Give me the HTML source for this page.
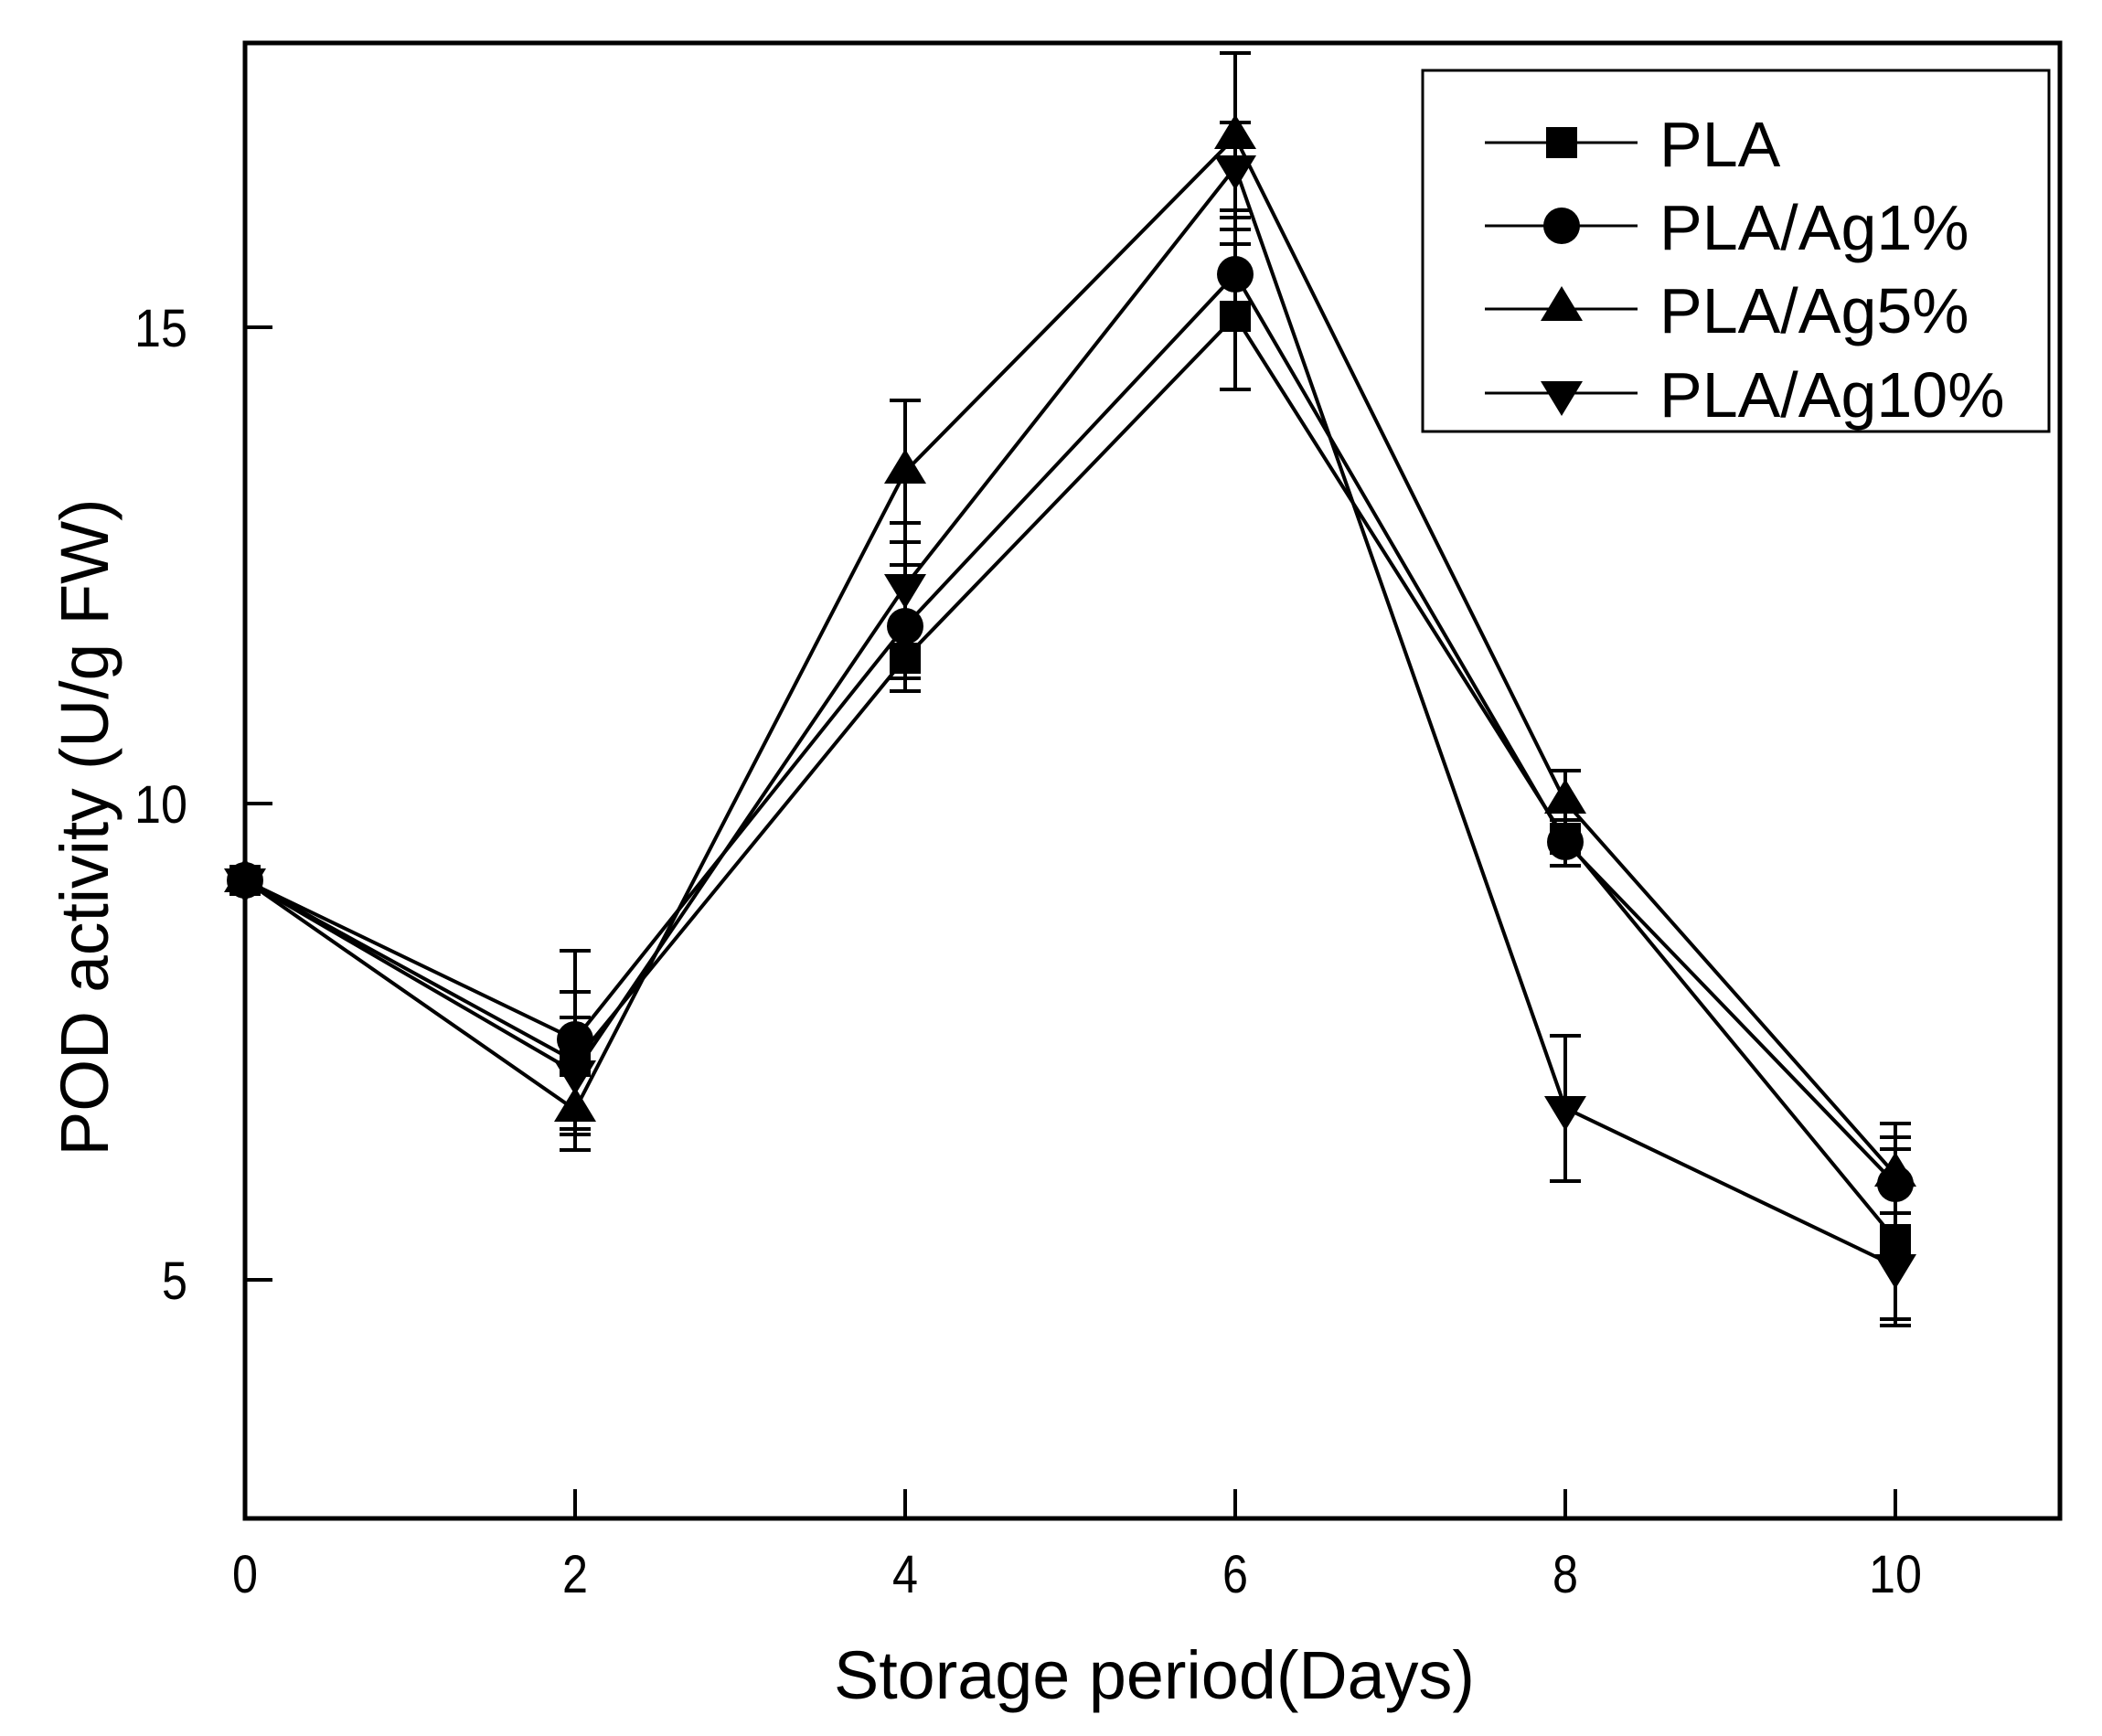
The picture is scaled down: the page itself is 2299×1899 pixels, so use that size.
<!DOCTYPE html>
<html><head><meta charset="utf-8"><style>
html,body{margin:0;padding:0;background:#fff;}
svg{display:block;}
text{font-family:"Liberation Sans",Arial,sans-serif;fill:#000;}
</style></head><body>
<svg width="2299" height="1899" viewBox="0 0 2299 1899" xmlns="http://www.w3.org/2000/svg">
<rect width="2299" height="1899" fill="#fff"/>
<defs>
<rect id="sq" x="-17" y="-17" width="34" height="34" fill="#000"/>
<circle id="ci" r="20" fill="#000"/>
<polygon id="tu" points="0,-25 -23,13 23,13" fill="#000"/>
<polygon id="td" points="-23,-13 23,-13 0,25" fill="#000"/>
</defs>
<g stroke="#000" stroke-width="4" fill="none">
<polyline points="268,963 629,1161 990,720 1351,346 1712,918 2073,1356"/>
<polyline points="268,963 629,1137 990,685 1351,300 1712,921 2073,1295"/>
<polyline points="268,963 629,1214 990,516 1351,150 1712,877 2073,1285"/>
<polyline points="268,963 629,1173 990,641 1351,183 1712,1212 2073,1385"/>
<line x1="629" y1="1040" x2="629" y2="1258"/>
<path d="M612 1040h34M612 1085h34M612 1113h34M612 1235h34M612 1241h34M612 1258h34"/>
<line x1="990" y1="438" x2="990" y2="756"/>
<path d="M973 438h34M973 572h34M973 593h34M973 618h34M973 742h34M973 756h34"/>
<line x1="1351" y1="58" x2="1351" y2="426"/>
<path d="M1334 58h34M1334 134h34M1334 230h34M1334 238h34M1334 251h34M1334 267h34M1334 426h34"/>
<line x1="1712" y1="843" x2="1712" y2="947"/>
<path d="M1695 843h34M1695 897h34M1695 902h34M1695 947h34"/>
<line x1="1712" y1="1133" x2="1712" y2="1292"/>
<path d="M1695 1133h34M1695 1292h34"/>
<line x1="2073" y1="1229" x2="2073" y2="1450"/>
<path d="M2056 1229h34M2056 1244h34M2056 1257h34M2056 1327h34M2056 1443h34M2056 1450h34"/>
</g>
<g>
<use href="#sq" x="268" y="963"/><use href="#ci" x="268" y="963"/><use href="#tu" x="268" y="963"/><use href="#td" x="268" y="963"/>
<use href="#sq" x="629" y="1161"/><use href="#ci" x="629" y="1137"/><use href="#tu" x="629" y="1214"/><use href="#td" x="629" y="1173"/>
<use href="#sq" x="990" y="720"/><use href="#ci" x="990" y="685"/><use href="#tu" x="990" y="516"/><use href="#td" x="990" y="641"/>
<use href="#sq" x="1351" y="346"/><use href="#ci" x="1351" y="300"/><use href="#tu" x="1351" y="150"/><use href="#td" x="1351" y="183"/>
<use href="#sq" x="1712" y="918"/><use href="#ci" x="1712" y="921"/><use href="#tu" x="1712" y="877"/><use href="#td" x="1712" y="1212"/>
<use href="#sq" x="2073" y="1356"/><use href="#ci" x="2073" y="1295"/><use href="#tu" x="2073" y="1285"/><use href="#td" x="2073" y="1385"/>
</g>
<rect x="268" y="47" width="1985" height="1614" fill="none" stroke="#000" stroke-width="5"/>
<g stroke="#000" stroke-width="4">
<path d="M629 1661v-32M990 1661v-32M1351 1661v-32M1712 1661v-32M2073 1661v-32"/>
<path d="M268 358h30M268 879h30M268 1400h30"/>
</g>
<g font-size="58" text-anchor="middle">
<text x="268" y="1742" textLength="28" lengthAdjust="spacingAndGlyphs">0</text>
<text x="629" y="1742" textLength="28" lengthAdjust="spacingAndGlyphs">2</text>
<text x="990" y="1742" textLength="28" lengthAdjust="spacingAndGlyphs">4</text>
<text x="1351" y="1742" textLength="28" lengthAdjust="spacingAndGlyphs">6</text>
<text x="1712" y="1742" textLength="28" lengthAdjust="spacingAndGlyphs">8</text>
<text x="2073" y="1742" textLength="58" lengthAdjust="spacingAndGlyphs">10</text>
</g>
<g font-size="58" text-anchor="end">
<text x="205" y="379" textLength="58" lengthAdjust="spacingAndGlyphs">15</text>
<text x="205" y="900" textLength="58" lengthAdjust="spacingAndGlyphs">10</text>
<text x="205" y="1421" textLength="28" lengthAdjust="spacingAndGlyphs">5</text>
</g>
<text x="912" y="1858" font-size="74" textLength="701" lengthAdjust="spacingAndGlyphs">Storage period(Days)</text>
<text transform="translate(118,905) rotate(-90)" font-size="74" text-anchor="middle" textLength="719" lengthAdjust="spacingAndGlyphs">POD activity (U/g FW)</text>
<rect x="1556" y="77" width="685" height="395" fill="#fff" stroke="#000" stroke-width="3"/>
<g stroke="#000" stroke-width="3">
<path d="M1624 156h167M1624 247h167M1624 338h167M1624 430h167"/>
</g>
<use href="#sq" x="1708" y="156"/>
<use href="#ci" x="1708" y="247"/>
<use href="#tu" x="1708" y="338"/>
<use href="#td" x="1708" y="430"/>
<g font-size="70">
<text x="1815" y="182">PLA</text>
<text x="1815" y="273">PLA/Ag1%</text>
<text x="1815" y="364">PLA/Ag5%</text>
<text x="1815" y="456">PLA/Ag10%</text>
</g>
</svg>
</body></html>
